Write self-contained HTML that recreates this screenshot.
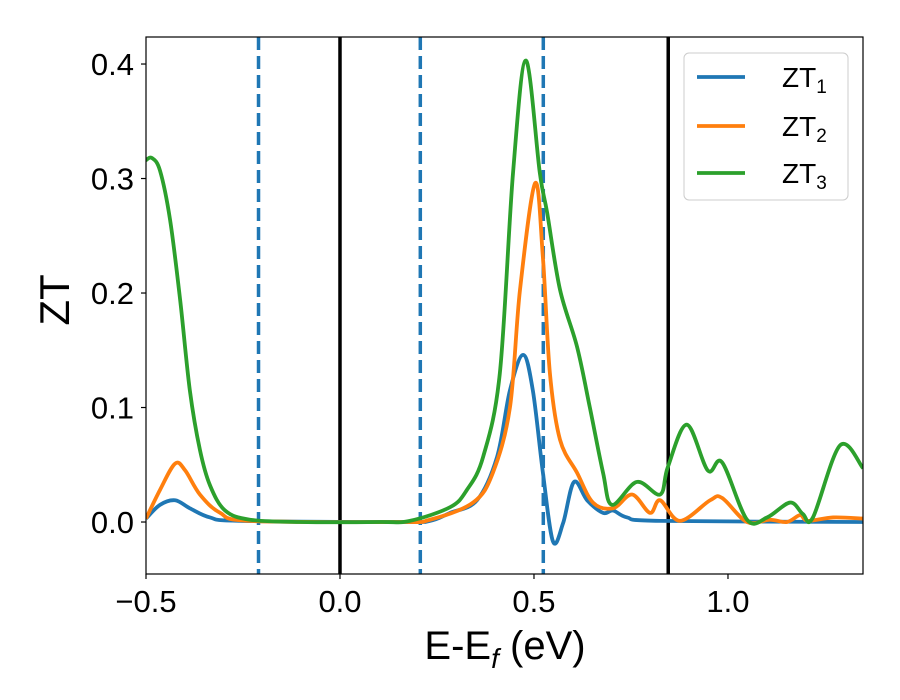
<!DOCTYPE html>
<html><head><meta charset="utf-8"><style>
body{margin:0;background:#fff}
svg{display:block;font-family:"Liberation Sans","DejaVu Sans",sans-serif}
</style></head><body>
<svg id="chart" width="900" height="700">
<rect width="900" height="700" fill="#fff"/>
<g id="plot"></g>
</svg>
<script>
const seriesNames=["ZT1","ZT2","ZT3"];
const zt1X=[-0.5,-0.464,-0.425,-0.387,-0.335,-0.258,0.155,0.232,0.284,0.353,0.405,0.438,0.472,0.497,0.523,0.549,0.575,0.603,0.637,0.678,0.704,0.740,0.825,1.348];
const zt1Y=[0.003,0.015,0.019,0.012,0.004,0.001,0,0.001,0.008,0.019,0.057,0.115,0.146,0.115,0.043,-0.017,-0.001,0.035,0.019,0.008,0.010,0.004,0.001,0];
const zt2X=[-0.5,-0.464,-0.425,-0.399,-0.361,-0.309,-0.232,0.155,0.232,0.343,0.394,0.438,0.464,0.503,0.523,0.541,0.567,0.611,0.652,0.704,0.753,0.799,0.825,0.876,0.954,0.985,1.049,1.108,1.152,1.186,1.206,1.271,1.348];
const zt2Y=[0.003,0.028,0.051,0.045,0.024,0.008,0.001,0,0.002,0.017,0.043,0.100,0.203,0.296,0.231,0.130,0.072,0.043,0.017,0.012,0.024,0.008,0.019,0.001,0.019,0.021,0,0.002,0,0.006,0.001,0.004,0.003];
const zt3X=[-0.5,-0.485,-0.464,-0.438,-0.412,-0.387,-0.361,-0.335,-0.296,-0.232,-0.103,0.103,0.180,0.284,0.327,0.369,0.412,0.446,0.479,0.515,0.534,0.567,0.611,0.644,0.678,0.701,0.765,0.825,0.845,0.894,0.948,0.985,1.049,1.101,1.160,1.193,1.219,1.289,1.348];
const zt3Y=[0.316,0.318,0.307,0.264,0.194,0.115,0.063,0.032,0.010,0.002,0,0,0.001,0.013,0.028,0.057,0.130,0.305,0.403,0.305,0.270,0.203,0.153,0.100,0.043,0.015,0.035,0.024,0.048,0.085,0.045,0.052,0.002,0.004,0.017,0.007,0.004,0.067,0.047];
const xTicks=[-0.5,0.0,0.5,1.0];
const xTickLabels=["\u22120.5","0.0","0.5","1.0"];
const yTicks=[0.0,0.1,0.2,0.3,0.4];
const yTickLabels=["0.0","0.1","0.2","0.3","0.4"];
const dashedLines=[-0.21,0.207,0.524];
const solidLines=[0,0.846];
const colors=["#1f77b4","#ff7f0e","#2ca02c"];
const L=146,R=863,T=37,B=574,xMin=-0.5,xMax=1.348,yMin=-0.0454,yMax=0.4236;
const sx=v=>L+(v-xMin)/(xMax-xMin)*(R-L);
const sy=v=>B-(v-yMin)/(yMax-yMin)*(B-T);
const NS="http://www.w3.org/2000/svg";
const svg=document.getElementById('chart');
const g=document.getElementById('plot');
function mk(tag,attrs,parent){const e=document.createElementNS(NS,tag);for(const k in attrs)e.setAttribute(k,attrs[k]);(parent||svg).appendChild(e);return e;}
const defs=mk('defs',{});const cp=mk('clipPath',{id:'clip'},defs);mk('rect',{x:L,y:T,width:R-L,height:B-T},cp);
g.setAttribute('clip-path','url(#clip)');
dashedLines.forEach(v=>{const l=mk('line',{x1:sx(v),x2:sx(v),y1:T,y2:B,stroke:'#1f77b4','stroke-width':3.5,'stroke-dasharray':'13,6'},g);

});
solidLines.forEach(v=>{const l=mk('line',{x1:sx(v),x2:sx(v),y1:T,y2:B,stroke:'#000','stroke-width':3.5},g);

});
function pathD(xs,ys){const p=xs.map((x,i)=>[sx(x),sy(ys[i])]);let d='M'+p[0][0]+','+p[0][1];
for(let i=0;i<p.length-1;i++){const p0=p[Math.max(0,i-1)],p1=p[i],p2=p[i+1],p3=p[Math.min(p.length-1,i+2)];
const t=1/6;d+=' C'+(p1[0]+(p2[0]-p0[0])*t)+','+(p1[1]+(p2[1]-p0[1])*t)+' '+(p2[0]-(p3[0]-p1[0])*t)+','+(p2[1]-(p3[1]-p1[1])*t)+' '+p2[0]+','+p2[1];}return d;}
[[zt1X,zt1Y],[zt2X,zt2Y],[zt3X,zt3Y]].forEach((s,i)=>{const p=mk('path',{d:pathD(s[0],s[1]),fill:'none',stroke:colors[i],'stroke-width':3.8,'stroke-linejoin':'round'},g);

});
const frame=mk('rect',{x:L,y:T,width:R-L,height:B-T,fill:'none',stroke:'#000','stroke-width':1.2});


xTicks.forEach((v,i)=>{mk('line',{x1:sx(v),x2:sx(v),y1:B,y2:B+5,stroke:'#000','stroke-width':1.2});
const t=mk('text',{x:sx(v),y:B+38,'text-anchor':'middle','font-size':31});t.textContent=xTickLabels[i];

});
yTicks.forEach((v,i)=>{mk('line',{x1:L-5,x2:L,y1:sy(v),y2:sy(v),stroke:'#000','stroke-width':1.2});
const t=mk('text',{x:L-12,y:sy(v)+11,'text-anchor':'end','font-size':31});t.textContent=yTickLabels[i];

});
</script>
<svg style="position:absolute;left:0;top:0" width="900" height="700">
<text x="505" y="659" text-anchor="middle" font-size="40" font-family="Liberation Sans, sans-serif">E-E<tspan font-style="italic" font-size="28" dy="9">f</tspan><tspan dy="-9"> (eV)</tspan></text>
<text transform="translate(69,300) rotate(-90)" text-anchor="middle" font-size="42" font-family="Liberation Sans, sans-serif">ZT</text>
<g font-family="Liberation Sans, sans-serif">
<rect x="684" y="53" width="164" height="147" rx="5" fill="#fff" fill-opacity="0.8" stroke="#ccc"/>
<line x1="697" x2="745" y1="77" y2="77" stroke="#1f77b4" stroke-width="3.8"/>
<text x="782" y="87" font-size="28">ZT<tspan font-size="19" dy="6">1</tspan></text>
<line x1="697" x2="745" y1="126" y2="126" stroke="#ff7f0e" stroke-width="3.8"/>
<text x="782" y="136" font-size="28">ZT<tspan font-size="19" dy="6">2</tspan></text>
<line x1="697" x2="745" y1="173" y2="173" stroke="#2ca02c" stroke-width="3.8"/>
<text x="782" y="183" font-size="28">ZT<tspan font-size="19" dy="6">3</tspan></text>
</g>
</svg>
</body></html>
